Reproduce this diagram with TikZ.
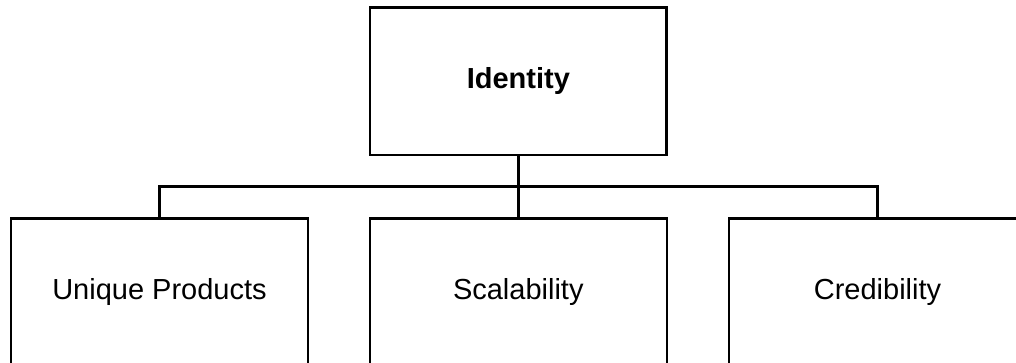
\documentclass[tikz,border=0pt]{standalone}
\usepackage{fontspec}
\setmainfont{Liberation Sans}
\begin{document}
\begin{tikzpicture}[x=1pt,y=-1pt,
  box/.style={draw=black, line width=2.6pt, fill=white, inner sep=0pt,
    minimum width=297pt, minimum height=148pt,
    font=\fontsize{29}{35}\selectfont},
  link/.style={draw=black, line width=2.6pt}]
  \useasboundingbox (0,0) rectangle (1016,362);
  \clip (0,0) rectangle (1016,362);
  % top of the hierarchy
  \node[box, minimum width=296.5pt, minimum height=147.5pt] (top) at (518.3,81.3) {\textbf{Identity}};
  % three branches below
  \node[box] (uniq)  at (159.5,292.3) {Unique Products};
  \node[box] (scale) at (518.3,292.3) {Scalability};
  \node[box] (cred)  at (877.5,292.3) {Credibility};
  % connector bus
  \coordinate (bus) at (518.3,186.7);
  \draw[link] (top.south) -- (scale.north);
  \draw[link] (uniq.north) -- (uniq.north |- bus) -- (cred.north |- bus) -- (cred.north);
\end{tikzpicture}
\end{document}
